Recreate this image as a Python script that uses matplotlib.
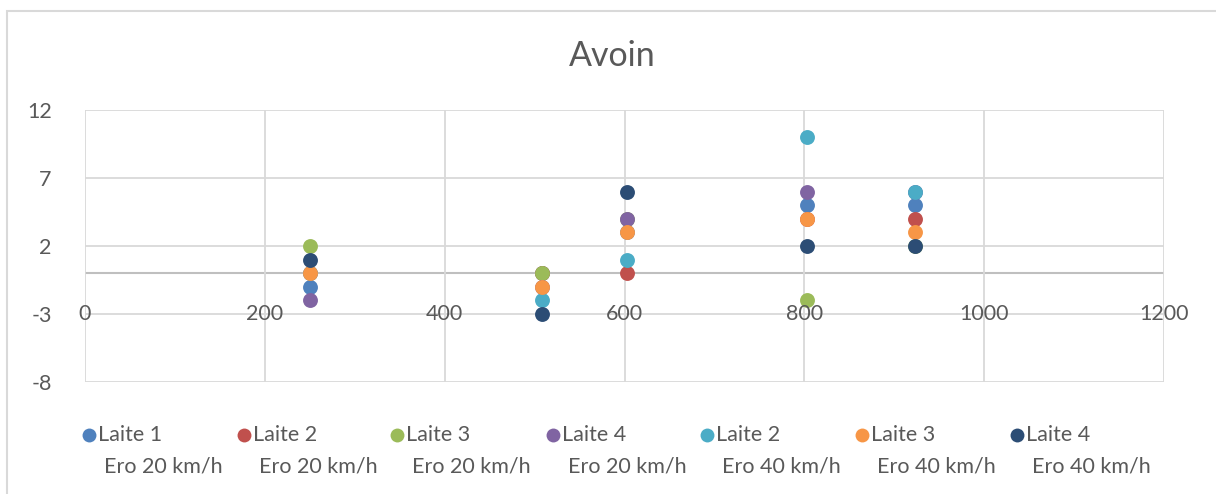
import numpy as np
import matplotlib.pyplot as plt
from matplotlib.lines import Line2D
from matplotlib.patches import Rectangle

plt.rcParams['font.family'] = ['Lato', 'DejaVu Sans']
plt.rcParams['axes.unicode_minus'] = False

# x positions (speed groups) and values per series
x_vals = [250, 508, 603, 803, 923]
series_names = ["Laite 1", "Laite 2", "Laite 3", "Laite 4", "Laite 2", "Laite 3", "Laite 4"]
series_sub = ["Ero 20 km/h"] * 4 + ["Ero 40 km/h"] * 3
laite1_20 = [-1, 0, 3, 5, 5]
laite2_20 = [0, 0, 0, 4, 4]
laite3_20 = [2, 0, 4, -2, 2]
laite4_20 = [-2, -1, 4, 6, 6]
laite2_40 = [0, -2, 1, 10, 6]
laite3_40 = [0, -1, 3, 4, 3]
laite4_40 = [1, -3, 6, 2, 2]
all_series = [laite1_20, laite2_20, laite3_20, laite4_20, laite2_40, laite3_40, laite4_40]
colors = ["#4F81BD", "#C0504D", "#9BBB59", "#8064A2", "#4BACC6", "#F79646", "#2C4D75"]

x_ticks = [0, 200, 400, 600, 800, 1000, 1200]
y_ticks = [-8, -3, 2, 7, 12]

W, H = 1216, 494
fig = plt.figure(figsize=(W / 100, H / 100), dpi=100)
ax = fig.add_axes([85 / W, 1 - 382 / H, (1164 - 85) / W, (382 - 110) / H])

txt = "#595959"
grid = "#D9D9D9"
fs = 15.5

for ys, c in zip(all_series, colors):
    ax.scatter(x_vals, ys, s=115, color=c, zorder=3, linewidths=0)

ax.set_xlim(0, 1200)
ax.set_ylim(-8, 12)
ax.set_yticks(y_ticks)
ax.set_xticks(x_ticks)
ax.grid(True, color=grid, linewidth=1.3, zorder=0)
ax.axhline(0, color="#BFBFBF", linewidth=1.5, zorder=1)
for s in ax.spines.values():
    s.set_visible(False)
ax.tick_params(axis='both', length=0, colors=txt, labelsize=fs)
ax.tick_params(axis='y', pad=24)
ax.set_xticklabels([])
for xt in x_ticks:
    ax.text(xt, -3, str(xt), ha='center', va='center', fontsize=fs, color=txt, zorder=4)

fig.text(612 / W, 1 - 56 / H, "Avoin", ha='center', va='center', fontsize=24.5, color=txt)

# legend drawn manually (two-line labels with marker on first line)
leg_x = [89, 244, 397, 553, 707, 862, 1017]
for lx, c, n1, n2 in zip(leg_x, colors, series_names, series_sub):
    fig.add_artist(Line2D([lx / W], [1 - 435 / H], marker='o', markersize=10, color=c,
                          markeredgewidth=0, transform=fig.transFigure))
    fig.text((lx + 9) / W, 1 - 435 / H, n1, ha='left', va='center', fontsize=fs, color=txt)
    fig.text((lx + 15) / W, 1 - 466 / H, n2, ha='left', va='center', fontsize=fs, color=txt)

# chart border
fig.add_artist(Rectangle((7 / W, -0.1), 1.2, 1.1 - 11 / H, transform=fig.transFigure,
                         fill=False, edgecolor="#D9D9D9", linewidth=1.5))

fig.savefig("out.png", dpi=100)
